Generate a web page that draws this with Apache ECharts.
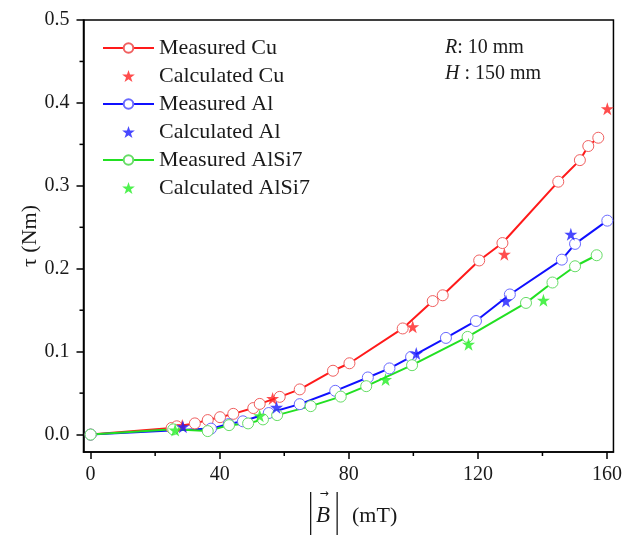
<!DOCTYPE html>
<html>
<head>
<meta charset="utf-8">
<script src="https://cdn.jsdelivr.net/npm/echarts@6/dist/echarts.min.js"></script>
<style>html,body{margin:0;padding:0;background:#fff}#c{width:625px;height:538px}</style>
</head>
<body>
<div id="c"></div>
<script>
// ---- data ----
const cuMeasX = [0, 25.1, 26.7, 32.3, 36.3, 40.1, 44.2, 50.4, 52.4, 58.6, 64.8, 75.1, 80.2, 96.7, 106.0, 109.1, 120.4, 127.6, 144.9, 151.6, 154.2, 157.3];
const cuMeasY = [0, 0.008, 0.010, 0.0135, 0.0175, 0.021, 0.025, 0.032, 0.037, 0.0455, 0.0545, 0.077, 0.086, 0.128, 0.161, 0.168, 0.210, 0.231, 0.305, 0.331, 0.348, 0.358];
const cuCalcX = [28.4, 56.4, 99.8, 128.2, 160.1];
const cuCalcY = [0.011, 0.0436, 0.130, 0.2175, 0.393];
const alMeasX = [0, 37.3, 42.8, 47.2, 55.2, 64.8, 75.8, 85.9, 92.6, 99.3, 110.1, 119.4, 129.9, 146.0, 150.1, 160.1];
const alMeasY = [0, 0.0072, 0.0127, 0.016, 0.026, 0.0367, 0.0528, 0.0689, 0.0798, 0.0937, 0.1166, 0.137, 0.169, 0.211, 0.230, 0.258];
const alCalcX = [28.6, 57.6, 100.9, 128.7, 148.8];
const alCalcY = [0.0094, 0.0328, 0.0978, 0.161, 0.2416];
const siMeasX = [0, 25.6, 36.3, 42.9, 48.8, 53.4, 57.8, 68.2, 77.5, 85.4, 99.6, 116.8, 134.9, 143.1, 150.1, 156.8];
const siMeasY = [0, 0.0063, 0.0042, 0.0114, 0.0135, 0.0183, 0.0235, 0.0343, 0.0458, 0.0584, 0.0837, 0.1178, 0.1588, 0.1834, 0.203, 0.2163];
const siCalcX = [26.2, 52.4, 91.4, 117.1, 140.3];
const siCalcY = [0.0054, 0.0227, 0.0665, 0.109, 0.162];
const xMajor = [0, 40, 80, 120, 160];
const xMinor = [20, 60, 100, 140];
const yMajor = [0, 0.1, 0.2, 0.3, 0.4, 0.5];
const yMinor = [0.05, 0.15, 0.25, 0.35, 0.45];
const names = ['Measured Cu', 'Calculated Cu', 'Measured Al', 'Calculated Al', 'Measured AlSi7', 'Calculated AlSi7'];

const zip = (xs, ys) => xs.map((x, i) => [x, ys[i]]);
const FONT = 'Liberation Serif';
const STAR = 'path://M50,0 L61.8,35.4 L99,35.4 L69,57.3 L80.4,92.7 L50,70.8 L19.6,92.7 L31,57.3 L1,35.4 L38.2,35.4 Z';

function measured(name, xs, ys, lineColor, markColor) {
  return {
    name, type: 'line', data: zip(xs, ys), symbol: 'circle', symbolSize: 11,
    showAllSymbol: true, z: 3,
    lineStyle: { color: lineColor, width: 2 },
    itemStyle: { color: '#fff', borderColor: markColor, borderWidth: 1 },
    emphasis: { disabled: true }, animation: false
  };
}
function calc(name, xs, ys, color) {
  return {
    name, type: 'scatter', data: zip(xs, ys), symbol: STAR, symbolSize: 13, z: 4,
    itemStyle: { color: color }, emphasis: { disabled: true }, animation: false
  };
}

const xMin = -2.2, xMax = 162, yMin = -0.021, yMax = 0.5;
const axisCommon = { lineStyle: { color: '#000', width: 1.5 } };
const TXT = '#1a1a1a';
const MINOR_LEN = 4;

// minor ticks drawn through the axes' own scales
const minorX = {
  type: 'custom', silent: true, clip: false, z: 5, animation: false,
  data: xMinor.map(v => [v, yMin]),
  renderItem: (params, api) => {
    const p = api.coord([api.value(0), api.value(1)]);
    return { type: 'line', shape: { x1: p[0], y1: p[1], x2: p[0], y2: p[1] + MINOR_LEN }, style: { stroke: '#000', lineWidth: 1.5 } };
  }
};
const minorY = {
  type: 'custom', silent: true, clip: false, z: 5, animation: false,
  data: yMinor.map(v => [xMin, v]),
  renderItem: (params, api) => {
    const p = api.coord([api.value(0), api.value(1)]);
    return { type: 'line', shape: { x1: p[0] - MINOR_LEN, y1: p[1], x2: p[0], y2: p[1] }, style: { stroke: '#000', lineWidth: 1.5 } };
  }
};

const chart = echarts.init(document.getElementById('c'), null, { renderer: 'canvas' });
chart.setOption({
  animation: false,
  backgroundColor: '#fff',
  grid: { left: 83.5, right: 10, top: 20, bottom: 86, show: true, borderColor: '#000', borderWidth: 1.5, containLabel: false },
  legend: {
    orient: 'vertical', left: 97, top: 32, itemWidth: 51, itemHeight: 12, itemGap: 6,
    data: names, selectedMode: false,
    textStyle: { fontFamily: FONT, fontSize: 22, color: TXT, lineHeight: 22, padding: [0, 0, 0, 0] }
  },
  xAxis: {
    type: 'value', min: xMin, max: xMax, position: 'bottom',
    axisLine: { show: true, onZero: false, ...axisCommon },
    axisTick: { show: true, customValues: xMajor, length: 7, lineStyle: { color: '#000', width: 1.5 } },
    axisLabel: { customValues: xMajor, fontFamily: FONT, fontSize: 20, color: TXT, margin: 13 },
    splitLine: { show: false }
  },
  yAxis: {
    type: 'value', min: yMin, max: yMax, position: 'left',
    axisLine: { show: true, onZero: false, ...axisCommon },
    axisTick: { show: true, customValues: yMajor, length: 7, lineStyle: { color: '#000', width: 1.5 } },
    axisLabel: { customValues: yMajor, fontFamily: FONT, fontSize: 20, color: TXT, margin: 14, formatter: v => v.toFixed(1) },
    splitLine: { show: false },
    name: 'τ (Nm)', nameLocation: 'middle', nameGap: 42, nameRotate: 90, nameMoveOverlap: false,
    nameTextStyle: { fontFamily: FONT, fontSize: 22, color: TXT }
  },
  graphic: [
    {
      type: 'text', left: 445, top: 35,
      style: {
        text: '{i|R}: 10 mm\n{i|H} : 150 mm', fontFamily: FONT, fontSize: 20, fill: TXT, lineHeight: 26,
        rich: { i: { fontFamily: FONT, fontSize: 20, fontStyle: 'italic', fill: TXT } }
      }
    },
    // x-axis title: |B⃗| (mT)
    { type: 'rect', shape: { x: 310, y: 492, width: 1.3, height: 43 }, style: { fill: TXT } },
    { type: 'rect', shape: { x: 336.5, y: 492, width: 1.3, height: 43 }, style: { fill: TXT } },
    { type: 'text', x: 316, y: 516, style: { text: 'B', fontFamily: FONT, fontSize: 23, fontStyle: 'italic', fill: TXT, verticalAlign: 'middle' } },
    { type: 'text', x: 319.5, y: 494, style: { text: '→', fontFamily: 'DejaVu Sans', fontSize: 11, fill: TXT, verticalAlign: 'middle' } },
    { type: 'text', x: 352, y: 516, style: { text: '(mT)', fontFamily: FONT, fontSize: 22, fill: TXT, verticalAlign: 'middle' } }
  ],
  series: [
    measured(names[0], cuMeasX, cuMeasY, '#ff1a1a', '#f06060'),
    calc(names[1], cuCalcX, cuCalcY, '#ff2020'),
    measured(names[2], alMeasX, alMeasY, '#1010ff', '#6a6aff'),
    calc(names[3], alCalcX, alCalcY, '#1a1aff'),
    measured(names[4], siMeasX, siMeasY, '#22e022', '#66dd66'),
    calc(names[5], siCalcX, siCalcY, '#22ee22'),
    minorX, minorY
  ]
});
</script>
</body>
</html>
